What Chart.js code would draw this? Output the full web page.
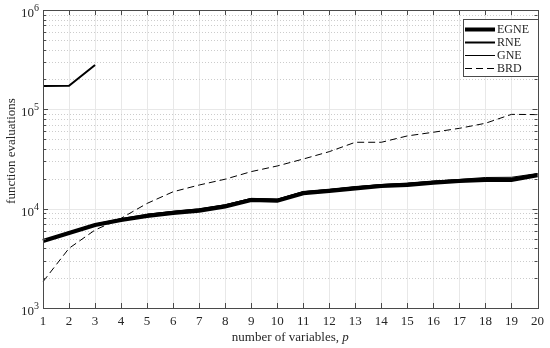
<!DOCTYPE html>
<html>
<head>
<meta charset="utf-8">
<script src="https://cdn.jsdelivr.net/npm/chart.js@4/dist/chart.umd.min.js"></script>
<style>
	html, body { margin: 0; padding: 0; background: #fff; }
	canvas { display: block; }
</style>
</head>
<body>
<canvas id="chart" width="550" height="348"></canvas>
<script>
// number of variables p
const variables = ['1', '2', '3', '4', '5', '6', '7', '8', '9', '10',
	'11', '12', '13', '14', '15', '16', '17', '18', '19', '20'];

// function evaluations per method
const egne = [4730, 5690, 6850, 7690, 8430, 9040, 9550, 10500, 12200, 12000,
	14300, 15100, 16000, 16900, 17300, 18200, 19000, 19400, 19400, 21700];
const rne = [172000, 173000, 280000, null, 8700, 9300, 9850, 10800, 12500, 12300,
	14600, 15400, 16400, 17300, 17800, 18700, 19400, 20000, 20000, 22200];
const gne = [4800, 5800, 7000, 7950, 8800, 9400, 9950, 10950, 12700, 12500,
	14900, 15700, 16700, 17500, 18100, 19000, 19700, 20600, 20700, 22600];
const brd = [1840, 3990, 6100, 8000, 11300, 14800, 17300, 19800, 23600, 26900,
	31600, 37500, 46600, 46600, 54000, 58800, 64400, 72400, 89000, 88500];

// decade exponents for the y axis labels
const yExponents = [3, 4, 5, 6];

const FONT = '"Liberation Serif", "Times New Roman", serif';
const AXIS_COLOR = '#4a4a4a';
const TEXT_COLOR = '#262626';

// draws MATLAB style grid, box, inward ticks, labels and the legend
let matlabAxes = {
	id: 'matlabAxes',
	beforeDatasetsDraw (chart) {
		let { ctx, chartArea: a, scales: { x, y } } = chart;
		ctx.save();
		ctx.lineWidth = 1;

		// vertical grid
		ctx.strokeStyle = '#e8e8e8';
		variables.forEach((v, i) => {
			let px = Math.round(x.getPixelForValue(i)) + 0.5;
			ctx.beginPath();
			ctx.moveTo(px, a.top);
			ctx.lineTo(px, a.bottom);
			ctx.stroke();
		});

		// horizontal grid, minor dotted and major solid
		for (let e = yExponents[0]; e < yExponents[yExponents.length - 1]; e++) {
			for (let m = 2; m <= 9; m++) {
				let py = Math.round(y.getPixelForValue(m * Math.pow(10, e))) + 0.5;
				ctx.strokeStyle = '#cccccc';
				ctx.setLineDash([1, 2]);
				ctx.beginPath();
				ctx.moveTo(a.left, py);
				ctx.lineTo(a.right, py);
				ctx.stroke();
			}
		}
		ctx.setLineDash([]);
		ctx.strokeStyle = '#e8e8e8';
		yExponents.forEach(e => {
			let py = Math.round(y.getPixelForValue(Math.pow(10, e))) + 0.5;
			ctx.beginPath();
			ctx.moveTo(a.left, py);
			ctx.lineTo(a.right, py);
			ctx.stroke();
		});
		ctx.restore();
	},
	afterDatasetsDraw (chart) {
		let { ctx, chartArea: a, scales: { x, y } } = chart;
		ctx.save();
		ctx.strokeStyle = AXIS_COLOR;
		ctx.lineWidth = 1;

		// box
		ctx.strokeRect(Math.round(a.left) + 0.5, Math.round(a.top) + 0.5,
			Math.round(a.right - a.left), Math.round(a.bottom - a.top));

		// x ticks, inward, bottom and top
		ctx.beginPath();
		variables.forEach((v, i) => {
			let px = Math.round(x.getPixelForValue(i)) + 0.5;
			ctx.moveTo(px, a.bottom);
			ctx.lineTo(px, a.bottom - 5);
			ctx.moveTo(px, a.top);
			ctx.lineTo(px, a.top + 5);
		});
		// y ticks, inward, left and right
		for (let e = yExponents[0]; e <= yExponents[yExponents.length - 1]; e++) {
			for (let m = 1; m <= 9; m++) {
				if (e === yExponents[yExponents.length - 1] && m > 1) { break; }
				let py = Math.round(y.getPixelForValue(m * Math.pow(10, e))) + 0.5;
				let len = m === 1 ? 5 : 3;
				ctx.moveTo(a.left, py);
				ctx.lineTo(a.left + len, py);
				ctx.moveTo(a.right, py);
				ctx.lineTo(a.right - len, py);
			}
		}
		ctx.stroke();

		// y labels 10^e
		ctx.fillStyle = TEXT_COLOR;
		ctx.textBaseline = 'alphabetic';
		yExponents.forEach(e => {
			let py = y.getPixelForValue(Math.pow(10, e));
			ctx.font = '10px ' + FONT;
			let supW = ctx.measureText(String(e)).width;
			ctx.textAlign = 'left';
			ctx.fillText(String(e), 39 - supW, py + 1);
			ctx.font = '13px ' + FONT;
			ctx.textAlign = 'right';
			ctx.fillText('10', 39 - supW, py + 7);
		});

		// x title with italic p
		let t1 = 'number of variables, ';
		ctx.font = 'italic 13px ' + FONT;
		let wP = ctx.measureText('p').width;
		ctx.font = '13px ' + FONT;
		let w1 = ctx.measureText(t1).width;
		let cx = (a.left + a.right) / 2;
		let sx = cx - (w1 + wP) / 2;
		ctx.textAlign = 'left';
		ctx.fillText(t1, sx, 341);
		ctx.font = 'italic 13px ' + FONT;
		ctx.fillText('p', sx + w1, 341);

		// y title
		ctx.save();
		ctx.translate(15, 151);
		ctx.rotate(-Math.PI / 2);
		ctx.font = '13px ' + FONT;
		ctx.textAlign = 'center';
		ctx.fillText('function evaluations', 0, 0);
		ctx.restore();

		// legend
		let lx = 463, ly = 19, lw = 75, lh = 57;
		ctx.fillStyle = '#fff';
		ctx.fillRect(lx, ly, lw, lh);
		ctx.strokeStyle = AXIS_COLOR;
		ctx.lineWidth = 1;
		ctx.strokeRect(lx + 0.5, ly + 0.5, lw, lh);
		ctx.font = '12px ' + FONT;
		ctx.textAlign = 'left';
		ctx.textBaseline = 'middle';
		chart.data.datasets.forEach((ds, i) => {
			let ry = 29.5 + i * 13;
			ctx.strokeStyle = ds.borderColor;
			ctx.lineWidth = ds.borderWidth;
			ctx.setLineDash(ds.borderDash || []);
			ctx.beginPath();
			ctx.moveTo(lx + 2, ry);
			ctx.lineTo(lx + 32, ry);
			ctx.stroke();
			ctx.setLineDash([]);
			ctx.fillStyle = TEXT_COLOR;
			ctx.fillText(ds.label, lx + 34, ry + 0.5);
		});
		ctx.restore();
	},
};

let lineStyle = (label, data, width, dash) => ({
	label: label,
	data: data,
	borderColor: '#000',
	backgroundColor: '#000',
	borderWidth: width,
	borderDash: dash,
	pointRadius: 0,
	tension: 0,
	fill: false,
	spanGaps: false,
});

new Chart(document.getElementById('chart'), {
	type: 'line',
	data: {
		labels: variables,
		datasets: [
			lineStyle('EGNE', egne, 4, []),
			lineStyle('RNE', rne, 2, []),
			lineStyle('GNE', gne, 1, []),
			lineStyle('BRD', brd, 1, [7, 4]),
		],
	},
	options: {
		responsive: false,
		animation: false,
		layout: { padding: { top: 10, right: 11, left: 0, bottom: 0 } },
		plugins: {
			legend: { display: false },
			tooltip: { enabled: false },
		},
		scales: {
			x: {
				offset: false,
				grid: { display: false, drawTicks: false },
				border: { display: false },
				ticks: {
					color: TEXT_COLOR,
					font: { family: FONT, size: 13 },
					padding: 6,
					maxRotation: 0,
					autoSkip: false,
				},
				afterFit (scale) { scale.height = 40; },
			},
			y: {
				type: 'logarithmic',
				min: 1000,
				max: 1000000,
				grid: { display: false, drawTicks: false },
				border: { display: false },
				ticks: { display: false },
				afterFit (scale) { scale.width = 43; },
			},
		},
	},
	plugins: [ matlabAxes ],
});
</script>
</body>
</html>
